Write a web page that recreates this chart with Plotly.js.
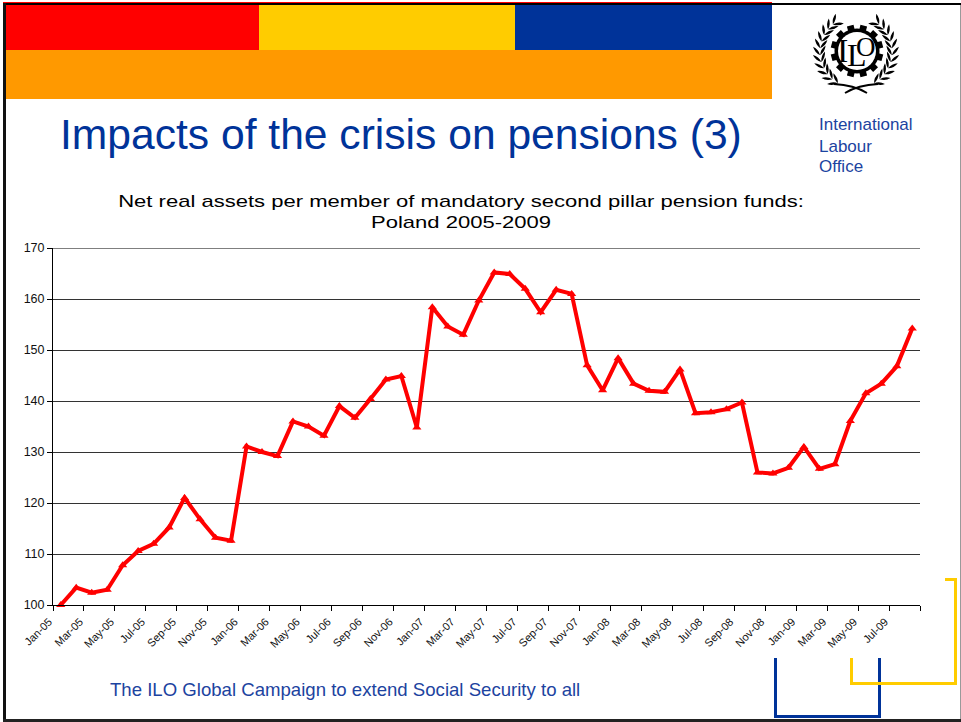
<!DOCTYPE html>
<html>
<head>
<meta charset="utf-8">
<script src="https://cdn.plot.ly/plotly-3.0.1.min.js"></script>
<style>html,body{margin:0;padding:0;background:#fff;overflow:hidden}</style>
</head>
<body>
<div id="chart" style="width:961px;height:722px"></div>
<script>
// Monthly index of net real assets per member, January 2005 = 100
const months = [
  'Jan-05','Feb-05','Mar-05','Apr-05','May-05','Jun-05','Jul-05','Aug-05','Sep-05','Oct-05','Nov-05','Dec-05',
  'Jan-06','Feb-06','Mar-06','Apr-06','May-06','Jun-06','Jul-06','Aug-06','Sep-06','Oct-06','Nov-06','Dec-06',
  'Jan-07','Feb-07','Mar-07','Apr-07','May-07','Jun-07','Jul-07','Aug-07','Sep-07','Oct-07','Nov-07','Dec-07',
  'Jan-08','Feb-08','Mar-08','Apr-08','May-08','Jun-08','Jul-08','Aug-08','Sep-08','Oct-08','Nov-08','Dec-08',
  'Jan-09','Feb-09','Mar-09','Apr-09','May-09','Jun-09','Jul-09','Aug-09'
];
const assetIndex = [
  100, 103.4, 102.4, 103, 107.8, 110.6, 112, 115.2, 121, 116.8, 113.2, 112.6,
  131.1, 130, 129.2, 136, 135, 133.2, 139, 136.7, 140.4, 144.2, 144.9, 134.8,
  158.4, 154.6, 153, 159.7, 165.2, 164.9, 162, 157.4, 161.8, 161, 147, 142.1,
  148.4, 143.4, 142, 141.8, 146.2, 137.6, 137.8, 138.4, 139.7, 126, 125.8, 126.9,
  131, 126.7, 127.6, 136.1, 141.5, 143.4, 146.8, 154.2
];
const tickLabels = [
  'Jan-05','Mar-05','May-05','Jul-05','Sep-05','Nov-05','Jan-06','Mar-06','May-06','Jul-06','Sep-06','Nov-06',
  'Jan-07','Mar-07','May-07','Jul-07','Sep-07','Nov-07','Jan-08','Mar-08','May-08','Jul-08','Sep-08','Nov-08',
  'Jan-09','Mar-09','May-09','Jul-09',''
];
// Ticks sit on the boundaries between every second month
const tickPositions = tickLabels.map((_, i) => i * 2 - 0.5);

const BLUE = '#003399', RED = '#FF0000', YELLOW = '#FFCC00', ORANGE = '#FF9900';
const TEXT_BLUE = '#1C43A0';

const margin = {l: 53, r: 41, t: 248, b: 117, pad: 0};
const W = 961 - margin.l - margin.r, H = 722 - margin.t - margin.b;
const X = px => (px - margin.l) / W;
const Y = py => 1 - (py - margin.t) / H;

const shapes = [];
function rect(x0, y0, x1, y1, color) {
  shapes.push({type: 'rect', xref: 'paper', yref: 'paper', x0: X(x0), x1: X(x1), y0: Y(y1), y1: Y(y0),
    fillcolor: color, line: {width: 0}});
}
function path(points, color) {
  shapes.push({type: 'path', xref: 'paper', yref: 'paper', path: points, fillcolor: color, line: {width: 0}});
}
function stroke(d, color, width) {
  shapes.push({type: 'path', xref: 'paper', yref: 'paper', path: d, line: {color: color, width: width}});
}
const P = (x, y) => X(x).toFixed(5) + ',' + Y(y).toFixed(5);

// Slide header bands
rect(3, 2, 772, 3, RED);
rect(6, 5, 259, 50, RED);
rect(259, 5, 515, 50, YELLOW);
rect(515, 5, 772, 50, BLUE);
rect(6, 50, 772, 99, ORANGE);

// Slide frame
rect(3, 3, 961, 5, '#000000');
rect(3, 3, 6, 722, '#111111');
rect(3, 719, 961, 722, '#222222');
rect(960, 5, 961, 719, '#9a9a9a');

// Corner brackets
rect(774, 658, 777, 718, BLUE);
rect(878, 658, 881, 718, BLUE);
rect(774, 715, 881, 718, BLUE);
rect(850, 658, 853, 685, YELLOW);
rect(850, 682, 957, 685, YELLOW);
rect(954, 578, 957, 685, YELLOW);
rect(945, 578, 957, 581, YELLOW);

// Top gridline, which the axis skips at the edge of the plot
shapes.push({type: 'line', xref: 'paper', x0: 0, x1: 1, yref: 'y', y0: 170, y1: 170, line: {color: '#000000', width: 1}});

// Emblem: wreath of laurel leaves
const cx = 856, cy = 52;
function leaf(bx, by, tx, ty, w) {
  const mx = (bx + tx) / 2, my = (by + ty) / 2, dx = tx - bx, dy = ty - by, n = Math.hypot(dx, dy);
  const ox = -dy / n * w, oy = dx / n * w;
  return `M${P(bx, by)} Q${P(mx + ox, my + oy)} ${P(tx, ty)} Q${P(mx - ox, my - oy)} ${P(bx, by)} Z `;
}
[-1, 1].forEach(side => {
  let d = '';
  for (let deg = 30; deg <= 142; deg += 11) {
    const a = deg * Math.PI / 180, R = 36;
    const bx = cx + side * R * Math.sin(a), by = cy + R * Math.cos(a);
    const tx0 = side * Math.cos(a), ty0 = -Math.sin(a);
    const nx = side * Math.sin(a), ny = Math.cos(a);
    const L = 11, c = 0.82, s = 0.57;
    d += leaf(bx, by, bx + L * (tx0 * c + nx * s), by + L * (ty0 * c + ny * s), 2.6);
    d += leaf(bx, by, bx + L * (tx0 * c - nx * s), by + L * (ty0 * c - ny * s), 2.6);
  }
  path(d, '#000000');
  // Stem sweeping up from the crossed ends
  stroke(`M${P(cx - side * 11, 93)} Q${P(cx + side * 2, 85)} ${P(cx + side * 22, 84)}`, '#000000', 1.8);
});

// Emblem: cog ring with twelve teeth
let gear = '';
for (let i = 0; i < 12; i++) {
  const a = (i + 0.5) * Math.PI / 6, w = 0.13;
  const pts = [[22.5, a - 0.26], [22.5, a - w - 0.02], [26.5, a - w], [26.5, a + w], [22.5, a + w + 0.02], [22.5, a + 0.26]];
  pts.forEach((p, j) => {
    const x = cx + 1 + p[0] * Math.cos(p[1]), y = 51 + p[0] * Math.sin(p[1]);
    gear += (i === 0 && j === 0 ? 'M' : 'L') + P(x, y) + ' ';
  });
}
path(gear + 'Z', '#000000');
shapes.push({type: 'circle', xref: 'paper', yref: 'paper', x0: X(cx + 1 - 19), x1: X(cx + 1 + 19),
  y0: Y(51 + 19), y1: Y(51 - 19), fillcolor: '#ffffff', line: {width: 0}});

function note(text, x, y, size, color, family, anchor) {
  return {text: text, xref: 'paper', yref: 'paper', x: X(x), y: Y(y), xanchor: anchor || 'left', yanchor: 'middle',
    showarrow: false, align: 'left', borderpad: 0,
    font: {size: size, color: color, family: family || 'Liberation Sans, Arial, sans-serif'}};
}

const annotations = [
  note('Impacts of the crisis on pensions (3)', 59, 134, 42.6, BLUE),
  note('International', 818, 125, 17, TEXT_BLUE),
  note('Labour', 818, 146, 17, TEXT_BLUE),
  note('Office', 818, 167, 17, TEXT_BLUE),
  note('The ILO Global Campaign to extend Social Security to all', 109, 689, 18.6, TEXT_BLUE),
  note('I', 842.5, 50, 34, '#000000', 'Liberation Serif, serif', 'center'),
  note('L', 857, 55, 32, '#000000', 'Liberation Serif, serif', 'center'),
  note('O', 866, 47, 27, '#000000', 'Liberation Serif, serif', 'center')
];

const trace = {
  type: 'scatter', mode: 'lines+markers', x: months, y: assetIndex,
  line: {color: RED, width: 4},
  marker: {symbol: 'triangle-up', size: 8, color: RED},
  cliponaxis: false, hoverinfo: 'x+y'
};

const layout = {
  width: 961, height: 722, margin: margin, paper_bgcolor: '#ffffff', plot_bgcolor: '#ffffff',
  showlegend: false, shapes: shapes, annotations: annotations,
  title: {
    text: 'Net real assets per member of mandatory second pillar pension funds:<br>Poland 2005-2009',
    x: 461 / 961, xref: 'container', xanchor: 'center', y: 1 - 192 / 722, yref: 'container', yanchor: 'top',
    font: {family: 'Liberation Sans, Arial, sans-serif', size: 16, color: '#000000'}
  },
  xaxis: {
    type: 'category', categoryorder: 'array', categoryarray: months, range: [-0.5, 55.5],
    tickmode: 'array', tickvals: tickPositions, ticktext: tickLabels, tickangle: -45,
    ticks: 'outside', ticklen: 5, tickwidth: 1, tickcolor: '#000000', ticklabelshift: -4,
    showline: true, linecolor: '#000000', linewidth: 1, showgrid: false, zeroline: false,
    tickfont: {family: 'Liberation Sans, Arial, sans-serif', size: 11, color: '#111111'}
  },
  yaxis: {
    range: [100, 170], tickmode: 'array', tickvals: [100, 110, 120, 130, 140, 150, 160, 170],
    ticks: 'outside', ticklen: 5, tickwidth: 1, tickcolor: '#000000',
    showline: true, linecolor: '#000000', linewidth: 1, showgrid: true, gridcolor: '#333333', gridwidth: 1, zeroline: false,
    tickfont: {family: 'Liberation Sans, Arial, sans-serif', size: 12.5, color: '#111111'}
  }
};

Plotly.newPlot('chart', [trace], layout, {displayModeBar: false, staticPlot: true}).then(gd => {
  // The chart heading is set in a horizontally extended face
  const heading = gd.querySelector('.gtitle');
  if (heading) {
    heading.setAttribute('transform', 'translate(461 15) scale(1.377 1) translate(-461 0)');
  }
});
</script>
</body>
</html>
